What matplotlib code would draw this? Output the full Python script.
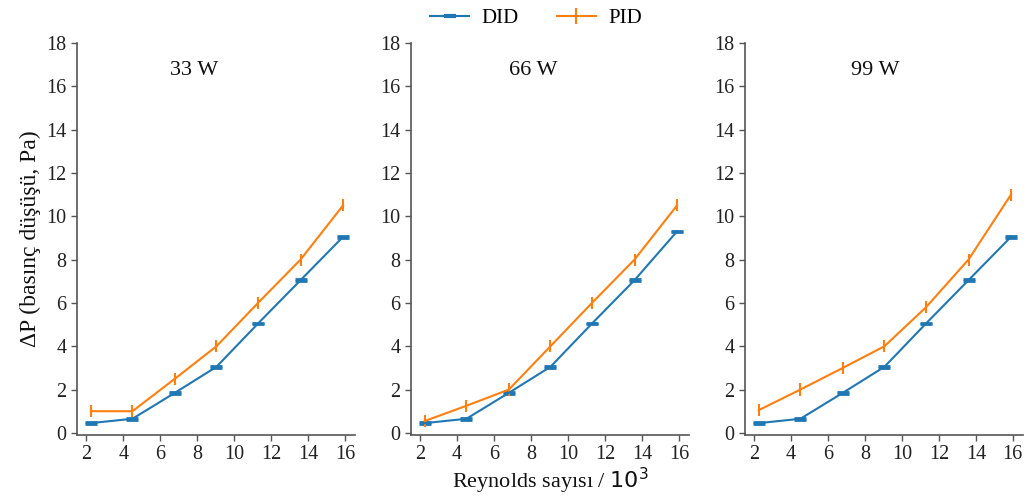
import matplotlib
matplotlib.use("Agg")
import matplotlib.pyplot as plt
from matplotlib.lines import Line2D

# Reynolds / 10^3
re_vals = [2.25, 4.5, 6.8, 9.05, 11.3, 13.6, 15.9]
powers = ["33 W", "66 W", "99 W"]

did_33 = [0.45, 0.65, 1.85, 3.05, 5.05, 7.05, 9.05]
pid_33 = [1.0, 1.0, 2.5, 4.0, 6.0, 8.0, 10.5]
did_66 = [0.45, 0.65, 1.85, 3.05, 5.05, 7.05, 9.3]
pid_66 = [0.55, 1.25, 2.0, 4.0, 6.0, 8.0, 10.5]
did_99 = [0.45, 0.65, 1.85, 3.05, 5.05, 7.05, 9.05]
pid_99 = [1.05, 2.0, 3.0, 4.0, 5.8, 8.0, 11.0]

did_err = 0.04
pid_err = 0.28

did_all = [did_33, did_66, did_99]
pid_all = [pid_33, pid_66, pid_99]

plt.rcParams['font.family'] = ['Liberation Serif', 'DejaVu Sans']
plt.rcParams['mathtext.fontset'] = 'dejavusans'

fig = plt.figure(figsize=(10.27, 4.97), dpi=100)
lefts = [0.075, 0.4002, 0.7254]
title_x = [0.42, 0.44, 0.47]

axes = []
for i in range(3):
    ax = fig.add_axes([lefts[i], 0.1247, 0.2707, 0.7888])
    axes.append(ax)
    ax.errorbar(re_vals, did_all[i], yerr=did_err, color='#1f77b4',
                capsize=4.5, capthick=2.0, elinewidth=1.5, lw=1.5)
    ax.errorbar(re_vals, pid_all[i], yerr=pid_err, color='#ff7f0e',
                capsize=0, elinewidth=1.5, lw=1.5)
    ax.set_xlim(1.5, 16.55)
    ax.set_ylim(-0.1, 18)
    ax.set_xticks(range(2, 17, 2))
    ax.set_yticks(range(0, 19, 2))
    for s in ['top', 'right']:
        ax.spines[s].set_visible(False)
    for s in ['left', 'bottom']:
        ax.spines[s].set_color('#555555')
        ax.spines[s].set_linewidth(1.2)
    ax.tick_params(colors='#555555', labelcolor='#222222', labelsize=14.5,
                   length=4, width=1)
    ax.text(title_x[i], 0.93, powers[i], transform=ax.transAxes,
            ha='center', va='center', fontsize=16, color='#111111')

axes[0].set_ylabel(u"ΔP (basınç düşüşü, Pa)", fontsize=17, color='#111111')
axes[1].set_xlabel(u"Reynolds sayısı / $10^3$", fontsize=16, color='#111111',
                   labelpad=1)

handles = [Line2D([], [], color='#1f77b4', lw=1.5, marker='_', ms=9, mew=3),
           Line2D([], [], color='#ff7f0e', lw=1.5, marker='|', ms=12, mew=1.5)]
fig.legend(handles, ['DID', 'PID'], loc='upper center',
           bbox_to_anchor=(0.522, 1.02), ncol=2, frameon=False, fontsize=15,
           handlelength=1.9, handletextpad=0.6, columnspacing=1.8)

fig.savefig("out.png", dpi=100)
